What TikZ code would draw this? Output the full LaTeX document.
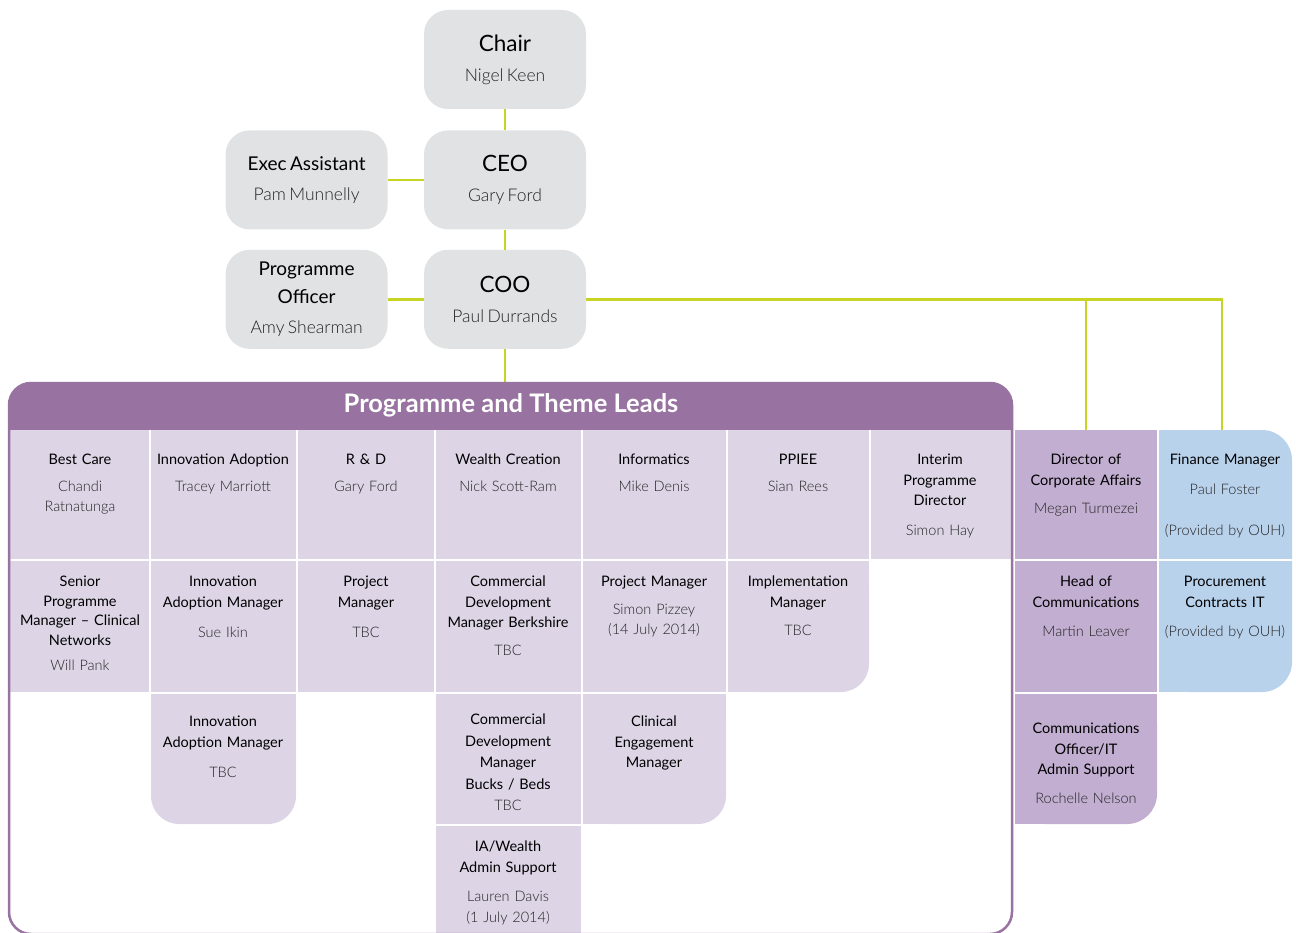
\documentclass[tikz,border=0pt]{standalone}
\usepackage{fontspec}
\setmainfont{Lato}
\newfontfamily\namefont{Lato Light}
\usetikzlibrary{positioning}
\definecolor{boxgrey}{RGB}{225,226,227}
\definecolor{linkgreen}{RGB}{200,212,36}
\definecolor{leadpurple}{RGB}{152,114,160}
\definecolor{leadfill}{RGB}{221,213,230}
\definecolor{corpfill}{RGB}{194,174,209}
\definecolor{ouhfill}{RGB}{185,210,236}
\definecolor{namegrey}{RGB}{35,35,35}
\newcommand\toptitle{\fontsize{22.5}{28}\selectfont}
\newcommand\subtitle{\fontsize{19}{28}\selectfont}
\newcommand\topname{\namefont\fontsize{17.5}{28}\selectfont\color{namegrey}}
\newcommand\who{\namefont\color{namegrey}}
\tikzset{
  topbox/.style = {fill=boxgrey, rounded corners=24pt, minimum width=162pt, minimum height=99pt,
                   text width=158pt, align=center, inner sep=0pt},
  link/.style = {draw=linkgreen, line width=2.6pt},
  celltext/.style = {anchor=north, text width=150pt, align=center, inner sep=0pt,
                     font=\fontsize{14.5}{20.5}\selectfont},
}

\begin{document}
\begin{tikzpicture}[x=1pt,y=-1pt]
  \useasboundingbox (0,0) rectangle (1296,933);
% executive boxes
  \node[topbox] (chair) at (505,59.5) {\toptitle Chair\\[16pt]\topname Nigel Keen};
  \node[topbox, below=21pt of chair] (ceo) {\toptitle CEO\\[16pt]\topname Gary Ford};
  \node[topbox, below=20pt of ceo] (coo) {\toptitle COO\\[16pt]\topname Paul Durrands};
  \node[topbox, left=36pt of ceo] (exec) {\subtitle Exec Assistant\\[16pt]\topname Pam Munnelly};
  \node[topbox, left=36pt of coo] (progofficer) {\subtitle Programme\\Officer\\[16pt]\topname Amy Shearman};
  \coordinate (leadstop) at (505,383);
  \coordinate (corptop) at (1086,430);
  \coordinate (ouhtop) at (1222,430);
  \draw[link] (chair) -- (ceo);
  \draw[link] (ceo) -- (coo);
  \draw[link] (exec) -- (ceo);
  \draw[link] (progofficer) -- (coo);
  \draw[link] (coo) -- (leadstop);
  \draw[link] (coo.east) -| (corptop);
  \draw[link] (coo.east) -| (ouhtop);
% programme and theme leads
  \fill[leadpurple, rounded corners=22pt] (9,383) rectangle (1012,470);
  \fill[white] (10.3,430) rectangle (1010.7,471);
  \node[white, font=\fontsize{25.5}{28}\selectfont\bfseries] (leadstitle) at (511,405) {Programme and Theme Leads};
  \foreach \xa/\ya/\xb/\yb in {10/430/149/559, 151/430/296/559, 298/430/434/559, 436/430/581/559,
      583/430/726/559, 728/430/869/559, 871/430/1011/559,
      10/561/149/692, 151/561/296/692, 298/561/434/692, 436/561/581/692, 583/561/726/692,
      436/694/581/824, 436/826/581/940}{
    \fill[leadfill] (\xa,\ya) rectangle (\xb,\yb);
  }
  % rounded cells
  \fill[leadfill, rounded corners=28pt] (728,561) rectangle (869,692);
  \fill[leadfill] (728,561) rectangle (830,692);
  \fill[leadfill] (728,561) rectangle (869,650);
  \fill[leadfill, rounded corners=28pt] (151,694) rectangle (296,824);
  \fill[leadfill] (151,694) rectangle (296,780);
  \fill[leadfill, rounded corners=28pt] (583,694) rectangle (726,824);
  \fill[leadfill] (583,694) rectangle (690,824);
  \fill[leadfill] (583,694) rectangle (726,780);
  \draw[leadpurple, line width=2.5pt, rounded corners=22pt] (9,383) rectangle (1012,934);
% corporate and OUH cells
  \fill[corpfill] (1015,430) rectangle (1157,559);
  \fill[corpfill] (1015,561) rectangle (1157,692);
  \fill[corpfill, rounded corners=30pt] (1015,694) rectangle (1157,824);
  \fill[corpfill] (1015,694) rectangle (1110,824);
  \fill[corpfill] (1015,694) rectangle (1157,780);
  \fill[ouhfill, rounded corners=30pt] (1159,430) rectangle (1292,692);
  \fill[ouhfill] (1159,430) rectangle (1220,692);
  \draw[white, line width=2pt] (1159,560) -- (1293,560);
% cell texts
  \node[celltext] (bestcare) at (80,454) {Best Care\\[6pt]\who Chandi\\Ratnatunga};
  \node[celltext] (innovation) at (223,454) {Innovation Adoption\\[6pt]\who Tracey Marriott};
  \node[celltext] (randd) at (366,454) {R \& D\\[6pt]\who Gary Ford};
  \node[celltext] (wealth) at (508,454) {Wealth Creation\\[6pt]\who Nick Scott-Ram};
  \node[celltext] (informatics) at (654,454) {Informatics\\[6pt]\who Mike Denis};
  \node[celltext] (ppiee) at (798,454) {PPIEE\\[6pt]\who Sian Rees};
  \node[celltext] (interim) at (940,454) {Interim\\Programme\\Director\\[9pt]\who Simon Hay};
  \node[celltext] (senior) at (80,576) {Senior\\[-1pt]Programme\\[-1pt]Manager -- Clinical\\[-1pt]Networks\\[5pt]\who Will Pank};
  \node[celltext] (iamanager) at (223,576) {Innovation\\Adoption Manager\\[10pt]\who Sue Ikin};
  \node[celltext] (projmanager) at (366,576) {Project\\Manager\\[10pt]\who TBC};
  \node[celltext] (commberks) at (508,576) {Commercial\\Development\\Manager Berkshire\\[7pt]\who TBC};
  \node[celltext] (infoproj) at (654,576) {Project Manager\\[7pt]\who Simon Pizzey\\(14 July 2014)};
  \node[celltext] (implement) at (798,576) {Implementation\\Manager\\[8pt]\who TBC};
  \node[celltext] (iamanagertwo) at (223,716) {Innovation\\Adoption Manager\\[10pt]\who TBC};
  \node[celltext] (commbucks) at (508,714) {Commercial\\[1pt]Development\\[1pt]Manager\\[1pt]Bucks / Beds\\[1pt]\who TBC};
  \node[celltext] (clinical) at (654,716) {Clinical\\Engagement\\Manager};
  \node[celltext] (iawealth) at (508,841) {IA/Wealth\\Admin Support\\[9pt]\who Lauren Davis\\(1 July 2014)};
  \node[celltext] (corpaffairs) at (1086,454) {Director of\\Corporate Affairs\\[8pt]\who Megan Turmezei};
  \node[celltext] (headcomms) at (1086,576) {Head of\\Communications\\[9pt]\who Martin Leaver};
  \node[celltext] (commsofficer) at (1086,723) {Communications\\Officer/IT\\Admin Support\\[8pt]\who Rochelle Nelson};
  \node[celltext] (finance) at (1225,454) {Finance Manager\\[9pt]\who Paul Foster\\[21pt](Provided by OUH)};
  \node[celltext] (procurement) at (1225,576) {Procurement\\Contracts IT\\[9pt]\who (Provided by OUH)};
\end{tikzpicture}
\end{document}
